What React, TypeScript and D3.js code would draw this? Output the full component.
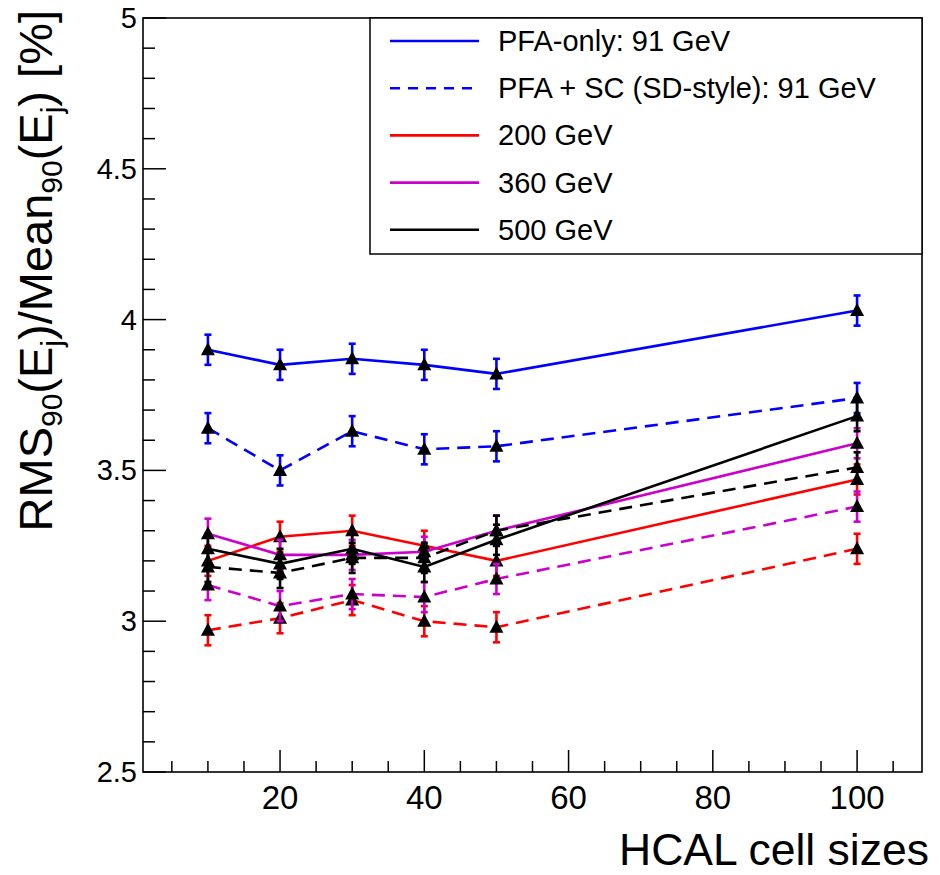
import React from "react";
import * as d3 from "d3";

const cellSizes = [10, 20, 30, 40, 50, 100];
const pfaOnly91 = [3.9, 3.85, 3.87, 3.85, 3.82, 4.03];
const pfaSc91 = [3.64, 3.5, 3.63, 3.57, 3.58, 3.74];
const pfaOnly200 = [3.2, 3.28, 3.3, 3.25, 3.2, 3.47];
const pfaSc200 = [2.97, 3.01, 3.07, 3.0, 2.98, 3.24];
const pfaOnly360 = [3.29, 3.22, 3.22, 3.23, 3.3, 3.59];
const pfaSc360 = [3.12, 3.05, 3.09, 3.08, 3.14, 3.38];
const pfaOnly500 = [3.24, 3.19, 3.24, 3.18, 3.27, 3.68];
const pfaSc500 = [3.18, 3.16, 3.21, 3.21, 3.3, 3.51];
const errorSize = 0.05;
const xTickLabels = [20, 40, 60, 80, 100];
const yTickLabels = [2.5, 3, 3.5, 4, 4.5, 5];
const legendLabels = ["PFA-only: 91 GeV", "PFA + SC (SD-style): 91 GeV", "200 GeV", "360 GeV", "500 GeV"];

const BLUE = "#0000ff";
const RED = "#ff0000";
const MAG = "#cc00cc";
const BLK = "#000000";

const series = [
  { values: pfaOnly91, color: BLUE, dashed: false },
  { values: pfaSc91, color: BLUE, dashed: true },
  { values: pfaOnly200, color: RED, dashed: false },
  { values: pfaSc200, color: RED, dashed: true },
  { values: pfaOnly360, color: MAG, dashed: false },
  { values: pfaSc360, color: MAG, dashed: true },
  { values: pfaOnly500, color: BLK, dashed: false },
  { values: pfaSc500, color: BLK, dashed: true },
];
const legendItems = [
  { color: BLUE, dashed: false },
  { color: BLUE, dashed: true },
  { color: RED, dashed: false },
  { color: MAG, dashed: false },
  { color: BLK, dashed: false },
];

const L = 143, R = 922, T = 18, B = 772;
const FONT = "'Liberation Sans', Arial, Helvetica, sans-serif";

export default function App() {
  const x = d3.scaleLinear().domain([1, 109]).range([L, R]);
  const y = d3.scaleLinear().domain([2.5, 5]).range([B, T]);
  const line = d3
    .line<number>()
    .x((_, i) => x(cellSizes[i]))
    .y((d) => y(d));

  const xMinor = d3.range(5, 109, 5);
  const yMinor = d3.range(25, 51, 1).map((v) => v / 10);

  const tri = (cx: number, cy: number) =>
    `M${cx},${cy - 7.5} L${cx + 7},${cy + 5.5} L${cx - 7},${cy + 5.5} Z`;

  return (
    <svg
      width={940}
      height={875}
      style={{ position: "absolute", left: 0, top: 0, background: "#fff" }}
      fontFamily={FONT}
    >
      <rect x={0} y={0} width={940} height={875} fill="#fff" />
      {/* ticks */}
      {xMinor.map((v) => {
        const major = v % 20 === 0;
        const len = major ? 22 : 11;
        return (
          <g key={"xt" + v}>
            <line x1={x(v)} x2={x(v)} y1={B} y2={B - len} stroke="#000" strokeWidth={1.5} />
          </g>
        );
      })}
      {yMinor.map((v) => {
        const major = Math.abs(v * 2 - Math.round(v * 2)) < 1e-6;
        const len = major ? 23 : 12;
        return (
          <g key={"yt" + v}>
            <line x1={L} x2={L + len} y1={y(v)} y2={y(v)} stroke="#000" strokeWidth={1.5} />
          </g>
        );
      })}
      {/* frame */}
      <rect x={L} y={T} width={R - L} height={B - T} fill="none" stroke="#000" strokeWidth={1.6} />
      {/* tick labels */}
      {xTickLabels.map((v) => (
        <text key={"xl" + v} x={x(v)} y={809} fontSize={33} textAnchor="middle" fill="#000">
          {v}
        </text>
      ))}
      {yTickLabels.map((v) => (
        <text key={"yl" + v} x={137} y={y(v) + 10} fontSize={29} textAnchor="end" fill="#000">
          {v}
        </text>
      ))}
      {/* axis titles */}
      <text x={929} y={865} fontSize={44.5} textAnchor="end" fill="#000">
        HCAL cell sizes
      </text>
      <text transform="translate(52,10) rotate(-90)" fontSize={47} textAnchor="end" fill="#000">
        RMS<tspan fontSize={30} dy={10}>90</tspan>
        <tspan dy={-10}>(E</tspan>
        <tspan fontSize={30} dy={10}>j</tspan>
        <tspan dy={-10}>)/Mean</tspan>
        <tspan fontSize={30} dy={10}>90</tspan>
        <tspan dy={-10}>(E</tspan>
        <tspan fontSize={30} dy={10}>j</tspan>
        <tspan dy={-10}>) [%]</tspan>
      </text>
      {/* series */}
      {series.map((s, si) => (
        <g key={"s" + si}>
          <path d={line(s.values) || ""} fill="none" stroke={s.color} strokeWidth={2.6}
            strokeDasharray={s.dashed ? "13,8" : undefined} />
          {s.values.map((v, i) => {
            const cx = x(cellSizes[i]);
            return (
              <g key={i}>
                <line x1={cx} x2={cx} y1={y(v - errorSize)} y2={y(v + errorSize)} stroke={s.color} strokeWidth={2.6} />
                <line x1={cx - 3.5} x2={cx + 3.5} y1={y(v - errorSize)} y2={y(v - errorSize)} stroke={s.color} strokeWidth={2.6} />
                <line x1={cx - 3.5} x2={cx + 3.5} y1={y(v + errorSize)} y2={y(v + errorSize)} stroke={s.color} strokeWidth={2.6} />
              </g>
            );
          })}
          {s.values.map((v, i) => (
            <path key={"m" + i} d={tri(x(cellSizes[i]), y(v))} fill="#000" />
          ))}
        </g>
      ))}
      {/* legend */}
      <rect x={370} y={T} width={R - 370} height={236} fill="#fff" stroke="#000" strokeWidth={1.5} />
      {legendLabels.map((lab, i) => {
        const ly = 41 + i * 47.2;
        const it = legendItems[i];
        return (
          <g key={"lg" + i}>
            <line x1={390} x2={479} y1={ly} y2={ly} stroke={it.color} strokeWidth={2.6}
              strokeDasharray={it.dashed ? "10,8" : undefined} />
            <text x={498} y={ly + 10} fontSize={29} fill="#000">{lab}</text>
          </g>
        );
      })}
    </svg>
  );
}
